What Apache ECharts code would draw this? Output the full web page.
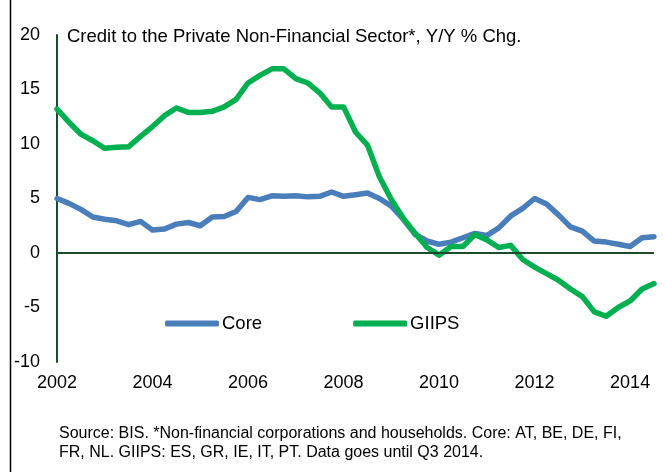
<!DOCTYPE html>
<html>
<head>
<meta charset="utf-8">
<script src="https://cdn.jsdelivr.net/npm/echarts@6/dist/echarts.min.js"></script>
<style>
  html, body { margin: 0; padding: 0; background: #fff; }
  #chart { width: 665px; height: 472px; }
</style>
</head>
<body>
<div id="chart"></div>
<script>
// quarterly data, 2002 Q1 .. 2014 Q3
const years = [2002, 2003, 2004, 2005, 2006, 2007, 2008, 2009, 2010, 2011, 2012, 2013, 2014];
const quarters = [];
years.forEach(y => {
  ["Q1", "Q2", "Q3", "Q4"].forEach(q => quarters.push(y + " " + q));
});
quarters.pop(); // no 2014 Q4

const core = [
  5.0, 4.55, 4.0, 3.3, 3.1, 2.95, 2.6, 2.9,
  2.1, 2.2, 2.65, 2.8, 2.5, 3.3, 3.35, 3.8,
  5.1, 4.9, 5.25, 5.2, 5.25, 5.15, 5.2, 5.6,
  5.2, 5.35, 5.5, 5.0, 4.3, 3.1, 1.7, 1.1,
  0.8, 1.0, 1.4, 1.8, 1.6, 2.3, 3.4, 4.1,
  5.0, 4.5, 3.5, 2.4, 2.0, 1.1, 1.0, 0.8,
  0.6, 1.4, 1.5
];
const giips = [
  13.2, 12.0, 10.9, 10.3, 9.6, 9.7, 9.75, 10.7,
  11.6, 12.6, 13.3, 12.9, 12.9, 13.0, 13.4, 14.1,
  15.6, 16.3, 16.9, 16.9, 16.0, 15.6, 14.7, 13.4,
  13.4, 11.1, 9.9, 7.0, 4.9, 3.2, 1.8, 0.5,
  -0.2, 0.6, 0.6, 1.7, 1.2, 0.5, 0.7, -0.6,
  -1.3, -1.9, -2.5, -3.3, -4.0, -5.4, -5.8, -5.0,
  -4.4, -3.3, -2.8
];

const font = "'Liberation Sans', Arial, sans-serif";
const axisColor = "#1e4a2c";
const chart = echarts.init(document.getElementById("chart"), null, { renderer: "canvas" });

chart.setOption({
  animation: false,
  backgroundColor: "#fff",
  title: {
    text: "Credit to the Private Non-Financial Sector*, Y/Y % Chg.",
    left: 62,
    top: 22,
    textStyle: { fontFamily: font, fontSize: 18.5, fontWeight: "normal", color: "#000" }
  },
  legend: {
    left: 160,
    top: 309,
    itemWidth: 54,
    itemHeight: 6,
    itemGap: 91,
    icon: "roundRect",
    textStyle: { fontFamily: font, fontSize: 18.5, color: "#000", padding: [0, 0, 0, -2] },
    data: ["Core", "GIIPS"]
  },
  grid: { left: 57, right: 11, top: 35, bottom: 110, outerBoundsMode: "none" },
  xAxis: {
    type: "category",
    data: quarters,
    boundaryGap: false,
    axisLine: { show: false, onZero: false },
    axisTick: { show: false },
    axisLabel: {
      interval: 7,
      margin: 12,
      fontFamily: font,
      fontSize: 18,
      color: "#000",
      formatter: v => v.slice(0, 4)
    },
    splitLine: { show: false }
  },
  yAxis: {
    type: "value",
    min: -10,
    max: 20,
    interval: 5,
    axisLine: { show: true, lineStyle: { color: axisColor, width: 2 } },
    axisTick: { show: false },
    axisLabel: { margin: 17, fontFamily: font, fontSize: 18, color: "#000" },
    splitLine: { show: false }
  },
  graphic: [
    {
      type: "line",
      shape: { x1: 10.5, y1: 0, x2: 10.5, y2: 472 },
      style: { stroke: "#000", lineWidth: 1.5 }
    },
    {
      type: "text",
      left: 59,
      top: 424,
      style: {
        text: "Source: BIS. *Non-financial corporations and households. Core: AT, BE, DE, FI,\nFR, NL. GIIPS: ES, GR, IE, IT, PT. Data goes until Q3 2014.",
        font: "16px " + font,
        fill: "#000",
        lineHeight: 19
      }
    }
  ],
  series: [
    {
      name: "Core",
      type: "line",
      data: core,
      showSymbol: false,
      color: "#4a7ebb",
      lineStyle: { width: 5.5, cap: "round", join: "round" },
      markLine: {
        silent: true,
        symbol: "none",
        label: { show: false },
        lineStyle: { color: axisColor, width: 2, type: "solid" },
        data: [{ yAxis: 0 }]
      }
    },
    {
      name: "GIIPS",
      type: "line",
      data: giips,
      showSymbol: false,
      color: "#00b050",
      lineStyle: { width: 5.5, cap: "round", join: "round" }
    }
  ]
});
</script>
</body>
</html>
